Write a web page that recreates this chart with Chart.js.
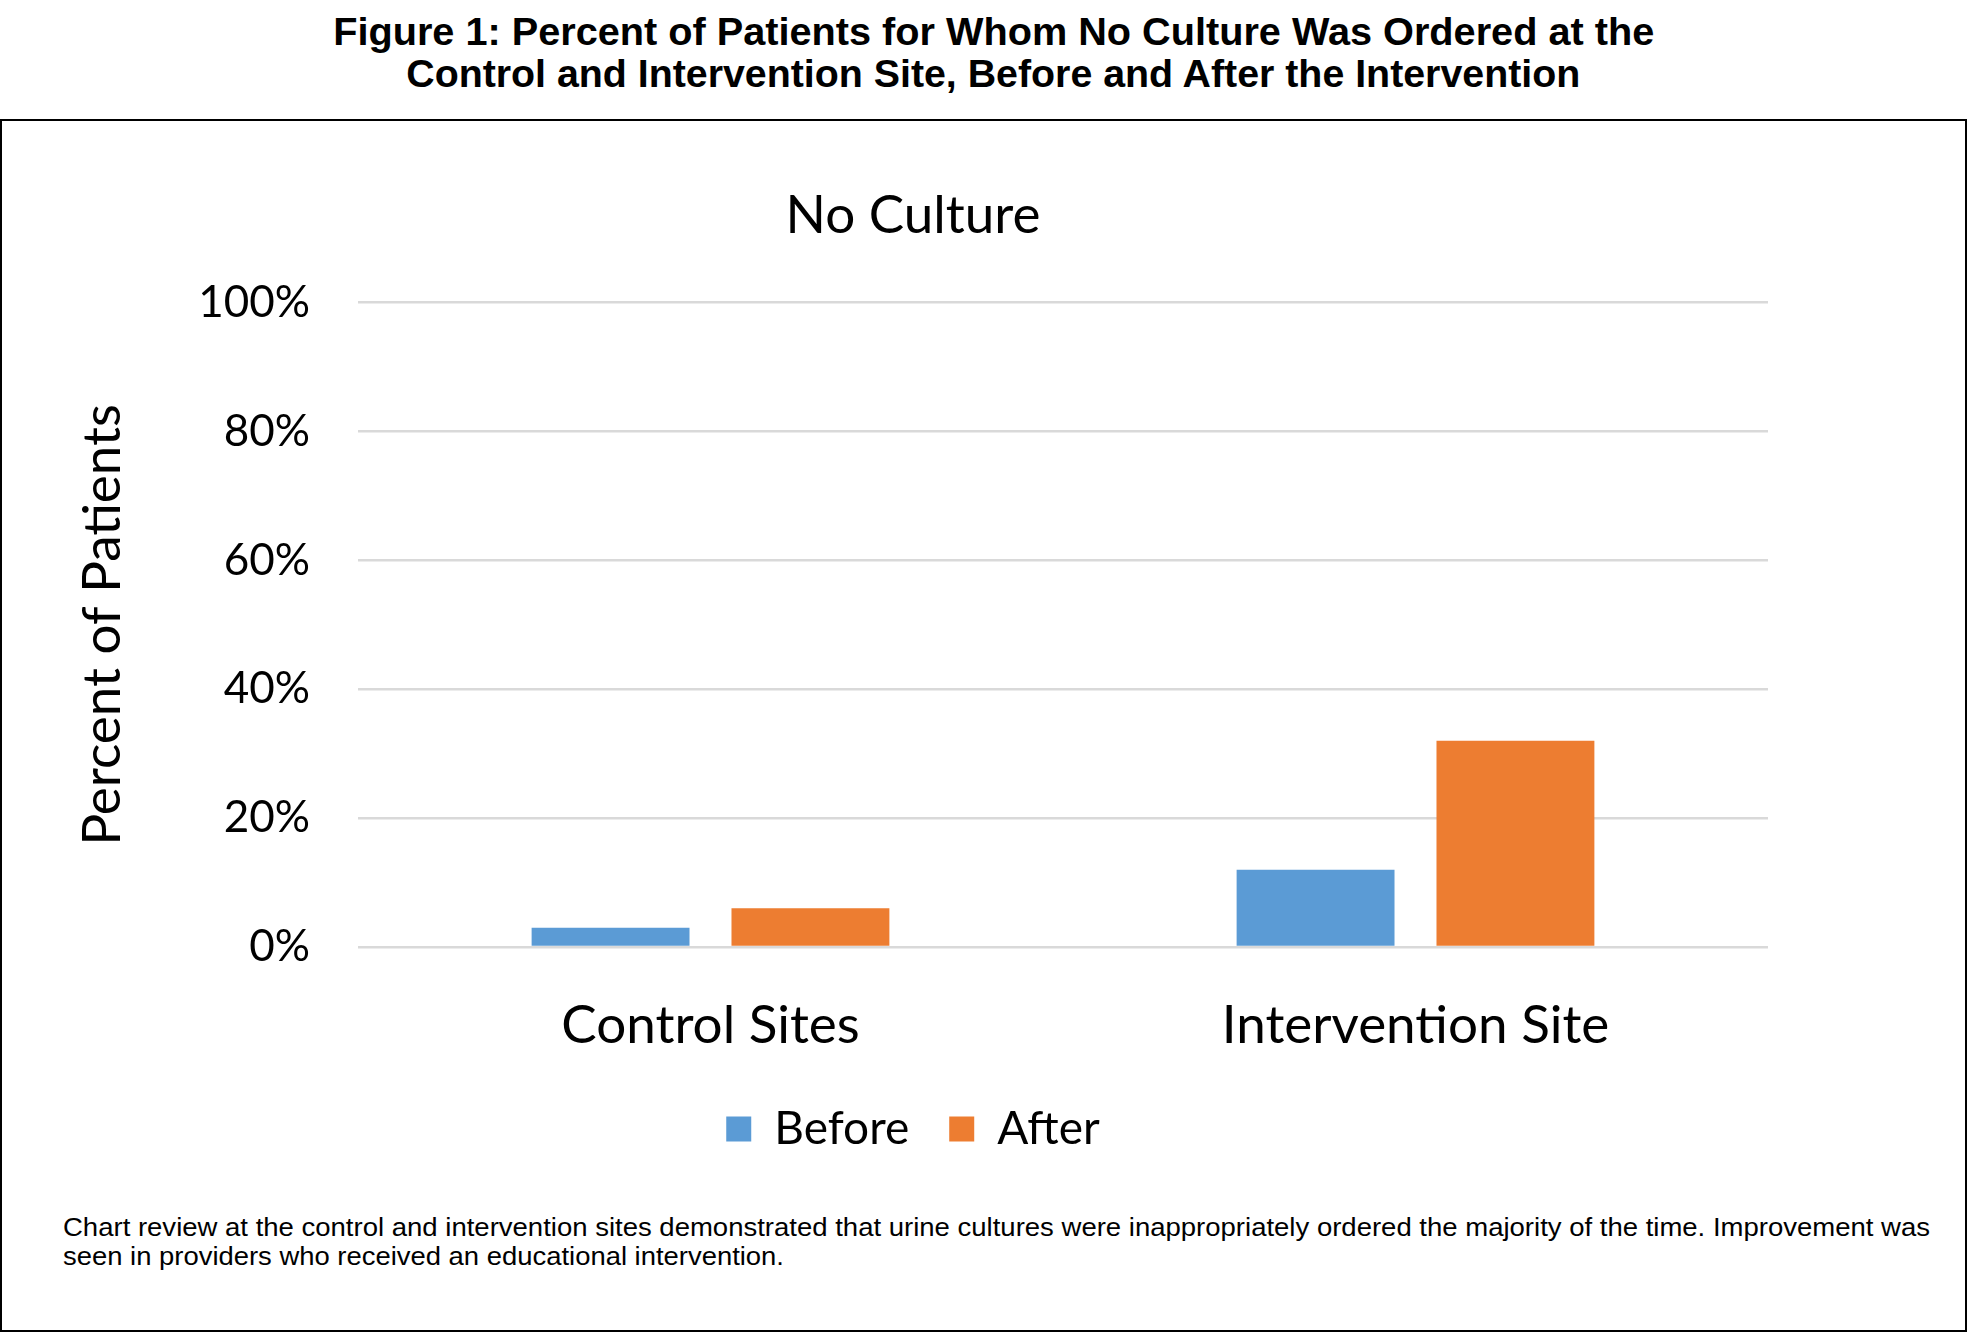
<!DOCTYPE html>
<html>
<head>
<meta charset="utf-8">
<script src="https://cdn.jsdelivr.net/npm/chart.js@4/dist/chart.umd.min.js"></script>
<style>
  html, body { margin: 0; padding: 0; background: #fff; }
  body { width: 1969px; height: 1332px; position: relative; overflow: hidden; }
  .fig-title {
    position: absolute; left: 9px; width: 1969px; text-align: center;
    font-family: "Liberation Sans", Arial, sans-serif; font-weight: bold;
    font-size: 38px; color: #000; white-space: nowrap;
  }
  .fig-title span, .caption span { display: inline-block; transform-origin: left center; }
  .frame {
    position: absolute; left: 0; top: 119px; width: 1963px; height: 1209px;
    border: 2px solid #000;
  }
  .caption {
    position: absolute; left: 63px; font-family: "Liberation Sans", Arial, sans-serif;
    font-size: 25px; color: #000; white-space: nowrap;
  }
  #chart { position: absolute; left: 0; top: 0; }
</style>
</head>
<body>
<div class="fig-title" style="top: 11px;"><span data-w="1321">Figure 1: Percent of Patients for Whom No Culture Was Ordered at the</span></div>
<div class="fig-title" style="top: 53px;"><span data-w="1174">Control and Intervention Site, Before and After the Intervention</span></div>
<div class="frame"></div>
<div class="caption" style="top: 1213px;"><span data-w="1867">Chart review at the control and intervention sites demonstrated that urine cultures were inappropriately ordered the majority of the time. Improvement was</span></div>
<div class="caption" style="top: 1242px;"><span data-w="721">seen in providers who received an educational intervention.</span></div>
<canvas id="chart" width="1969" height="1332"></canvas>
<script>
// data
const categories = ["Control Sites", "Intervention Site"];
const beforeValues = [3, 12];
const afterValues = [6, 32];
const yTicks = [0, 20, 40, 60, 80, 100];

// squeeze the figure text to the widths seen in the reference
document.querySelectorAll("span[data-w]").forEach(s => {
  const target = parseFloat(s.dataset.w);
  const w = s.getBoundingClientRect().width;
  s.style.transform = `scaleX(${target / w})`;
  if (s.parentElement.classList.contains("fig-title")) {
    s.style.transformOrigin = "center center";
  }
});

const axisFont = "Lato, 'Open Sans', sans-serif";

new Chart(document.getElementById("chart"), {
  type: "bar",
  data: {
    labels: categories,
    datasets: [
      {
        label: "Before",
        data: beforeValues,
        backgroundColor: "#5B9BD5",
        categoryPercentage: 0.567,
        barPercentage: 0.79
      },
      {
        label: "After",
        data: afterValues,
        backgroundColor: "#ED7D31",
        categoryPercentage: 0.567,
        barPercentage: 0.79
      }
    ]
  },
  options: {
    responsive: false,
    animation: false,
    layout: { padding: { left: 58, right: 201, top: 0, bottom: 170 } },
    plugins: {
      title: {
        display: true,
        text: "No Culture",
        color: "#000",
        font: { family: axisFont, size: 53, weight: "normal" },
        padding: { top: 184, bottom: 55 }
      },
      legend: {
        position: "bottom",
        labels: {
          color: "#000",
          font: { family: axisFont, size: 46 },
          boxWidth: 25,
          boxHeight: 25,
          padding: 40
        }
      },
      tooltip: { enabled: false }
    },
    scales: {
      x: {
        grid: { display: false },
        border: { display: false },
        ticks: {
          color: "#000",
          font: { family: axisFont, size: 53 },
          padding: 39
        },
        afterFit: s => { s.height = 119; }
      },
      y: {
        min: 0,
        max: 100,
        afterBuildTicks: s => { s.ticks = yTicks.map(v => ({ value: v })); },
        grid: { color: "#d9d9d9", lineWidth: 2.5, drawTicks: false },
        border: { display: false },
        ticks: {
          color: "#000",
          font: { family: axisFont, size: 44 },
          padding: 48,
          callback: v => v + "%"
        },
        title: {
          display: true,
          text: "Percent of Patients",
          color: "#000",
          font: { family: axisFont, size: 53 },
          padding: { top: 13, bottom: 0 }
        },
        afterFit: s => { s.width = 300; }
      }
    }
  }
});
</script>
</body>
</html>
